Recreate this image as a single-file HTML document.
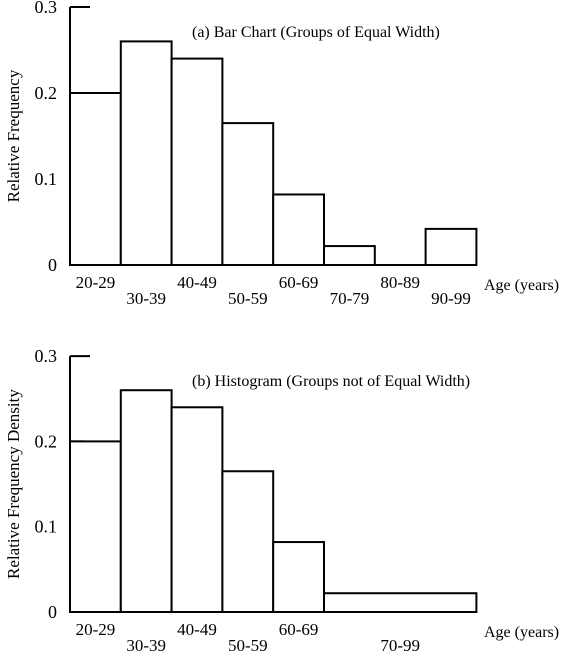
<!DOCTYPE html>
<html><head><meta charset="utf-8"><style>
body{margin:0;background:#fff}
svg{display:block;font-family:"Liberation Serif",serif}
</style></head><body>
<svg id="c" width="575" height="657"></svg>
<script>
const catsA=["20-29","30-39","40-49","50-59","60-69","70-79","80-89","90-99"];
const valsA=[0.2,0.26,0.24,0.165,0.082,0.022,0,0.042];
const catsB=["20-29","30-39","40-49","50-59","60-69","70-99"];
const spansB=[1,1,1,1,1,3];
const valsB=[0.2,0.26,0.24,0.165,0.082,0.022];
const yTicks=[0,0.1,0.2,0.3];
const yTickLabels=["0","0.1","0.2","0.3"];
const NS="http://www.w3.org/2000/svg";
const svg=document.getElementById('c');
function el(t,a,txt){const e=document.createElementNS(NS,t);for(const k in a)e.setAttribute(k,a[k]);if(txt!==undefined)e.textContent=txt;svg.appendChild(e);return e;}
function panel(y0,pxPer,cats,spans,vals,title,ylab,key){
  const x0=70,bw=50.8;
  const xs=i=>x0+i*bw;
  const ys=v=>y0-v*pxPer*10;
  let a=el('line',{x1:x0,y1:ys(0.3),x2:x0,y2:y0,stroke:'#000','stroke-width':2});
  
  yTicks.forEach((t,i)=>{
    if(t>0){const l=el('line',{x1:x0,x2:x0+(t===0.3?20:14),y1:ys(t),y2:ys(t),stroke:'#000','stroke-width':2});
    }
    const tx=el('text',{x:57,y:ys(t)+6,'text-anchor':'end','font-size':18},yTickLabels[i]);
    
  });
  let pos=0;
  cats.forEach((c,i)=>{
    const w=spans[i]*bw;
    if(vals[i]>0){const r=el('rect',{x:xs(pos),y:ys(vals[i]),width:w,height:y0-ys(vals[i]),fill:'#fff',stroke:'#000','stroke-width':2});
    }
    const ly=y0+(i%2===0?23:39);
    const tx=el('text',{x:xs(pos)+(spans[i]>1?w/2:bw/2),y:ly,'text-anchor':'middle','font-size':17},c);
    
    pos+=spans[i];
  });
  a=el('line',{x1:x0,y1:y0,x2:x0+8*bw,y2:y0,stroke:'#000','stroke-width':2});
  
  let t=el('text',{x:484,y:y0+25,'font-size':16},'Age (years)');
  
  t=el('text',{x:192,y:ys(0.3)+30,'font-size':16},title);
  
  const cy=(ys(0.3)+y0)/2;
  t=el('text',{x:19,y:cy,'font-size':17,'text-anchor':'middle',transform:'rotate(-90 19 '+cy+')'},ylab);
  
}
panel(265,86,catsA,catsA.map(()=>1),valsA,'(a) Bar Chart (Groups of Equal Width)','Relative Frequency','bar-chart');
panel(612,85.3,catsB,spansB,valsB,'(b) Histogram (Groups not of Equal Width)','Relative Frequency Density','histogram');
</script>
</body></html>
